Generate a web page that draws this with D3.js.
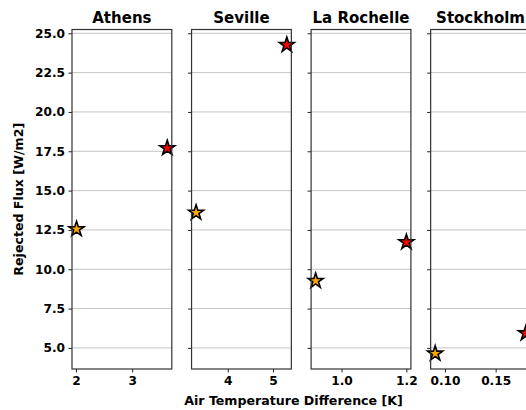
<!DOCTYPE html>
<html>
<head>
<meta charset="utf-8">
<script src="https://cdn.jsdelivr.net/npm/d3@7"></script>
<style>
  html, body { margin: 0; padding: 0; background: #fff; }
  svg { display: block; }
  text { font-family: "DejaVu Sans", sans-serif; font-weight: bold; fill: #000; }
</style>
</head>
<body>
<svg id="chart" width="526" height="410"></svg>
<script>
// ---- data ----
const cities = ["Athens", "Seville", "La Rochelle", "Stockholm"];
const xOrange = [2.01, 3.30, 0.92, 0.0904];
const yOrange = [12.55, 13.6, 9.26, 4.64];
const xRed = [3.625, 5.307, 1.2, 0.1798];
const yRed = [17.7, 24.26, 11.72, 5.93];
const xTicks = [[2, 3], [4, 5], [1.0, 1.2], [0.10, 0.15]];
const xTickFormats = ["d", "d", ".1f", ".2f"];
const yTicks = [5.0, 7.5, 10.0, 12.5, 15.0, 17.5, 20.0, 22.5, 25.0];
const yLabel = "Rejected Flux [W/m2]";
const xLabel = "Air Temperature Difference [K]";

// ---- layout ----
const svg = d3.select("#chart");
const plotTop = 29.5, plotBottom = 369;
const left0 = 72, step = 119.55, panelW = 99.8;

function padDomain(a, b) {
  const lo = Math.min(a, b), hi = Math.max(a, b), r = hi - lo;
  return [lo - 0.05 * r, hi + 0.05 * r];
}
const allY = yOrange.concat(yRed);
const y = d3.scaleLinear()
  .domain(padDomain(d3.min(allY), d3.max(allY)))
  .range([plotBottom, plotTop]);

const starSize = 70;
const star = d3.symbol().type(d3.symbolStar).size(starSize);

cities.forEach((city, i) => {
  const x0 = left0 + i * step;
  const x = d3.scaleLinear()
    .domain(padDomain(xOrange[i], xRed[i]))
    .range([x0, x0 + panelW]);
  const g = svg.append("g");

  // grid
  g.selectAll("line.grid").data(yTicks).enter().append("line")
    .attr("x1", x0).attr("x2", x0 + panelW)
    .attr("y1", d => y(d)).attr("y2", d => y(d))
    .attr("stroke", "#c4c4c4").attr("stroke-width", 1);

  // points
  const pts = [
    { x: xOrange[i], y: yOrange[i], c: "orange" },
    { x: xRed[i], y: yRed[i], c: "red" }
  ];
  g.selectAll("path.pt").data(pts).enter().append("path")
    .attr("d", star)
    .attr("transform", d => `translate(${x(d.x)},${y(d.y)})`)
    .attr("fill", d => d.c)
    .attr("stroke", "#000").attr("stroke-width", 1.6)
    .attr("stroke-linejoin", "miter");

  // axes
  const yAxis = d3.axisLeft(y).tickValues(yTicks).tickSizeOuter(0).tickSize(3.5).tickPadding(3.5)
    .tickFormat(i === 0 ? d3.format(".1f") : () => "");
  const ga = g.append("g").attr("transform", `translate(${x0},0)`).call(yAxis);
  const xAxis = d3.axisBottom(x).tickValues(xTicks[i]).tickSizeOuter(0).tickSize(3.5).tickPadding(3.5)
    .tickFormat(d3.format(xTickFormats[i]));
  const gx = g.append("g").attr("transform", `translate(0,${plotBottom})`).call(xAxis);
  [ga, gx].forEach(a => {
    a.select(".domain").remove();
    a.selectAll("line").attr("stroke", "#222").attr("stroke-width", 1);
    a.selectAll("text").style("font-size", "12.2px").style("font-family", "DejaVu Sans").style("font-weight", "bold").attr("fill", "#111");
  });

  // frame
  g.append("rect")
    .attr("x", x0).attr("y", plotTop)
    .attr("width", panelW).attr("height", plotBottom - plotTop)
    .attr("fill", "none").attr("stroke", "#333").attr("stroke-width", 1.2);

  // title
  svg.append("text")
    .attr("x", x0 + panelW / 2).attr("y", 22.5)
    .attr("text-anchor", "middle")
    .style("font-size", "15px")
    .text(city);
});

// axis labels
svg.append("text")
  .attr("transform", `translate(23,${(plotTop + plotBottom) / 2}) rotate(-90)`)
  .attr("text-anchor", "middle")
  .style("font-size", "12.6px")
  .text(yLabel);

svg.append("text")
  .attr("x", 293.5).attr("y", 405)
  .attr("text-anchor", "middle")
  .style("font-size", "12.6px")
  .text(xLabel);
</script>
</body>
</html>
